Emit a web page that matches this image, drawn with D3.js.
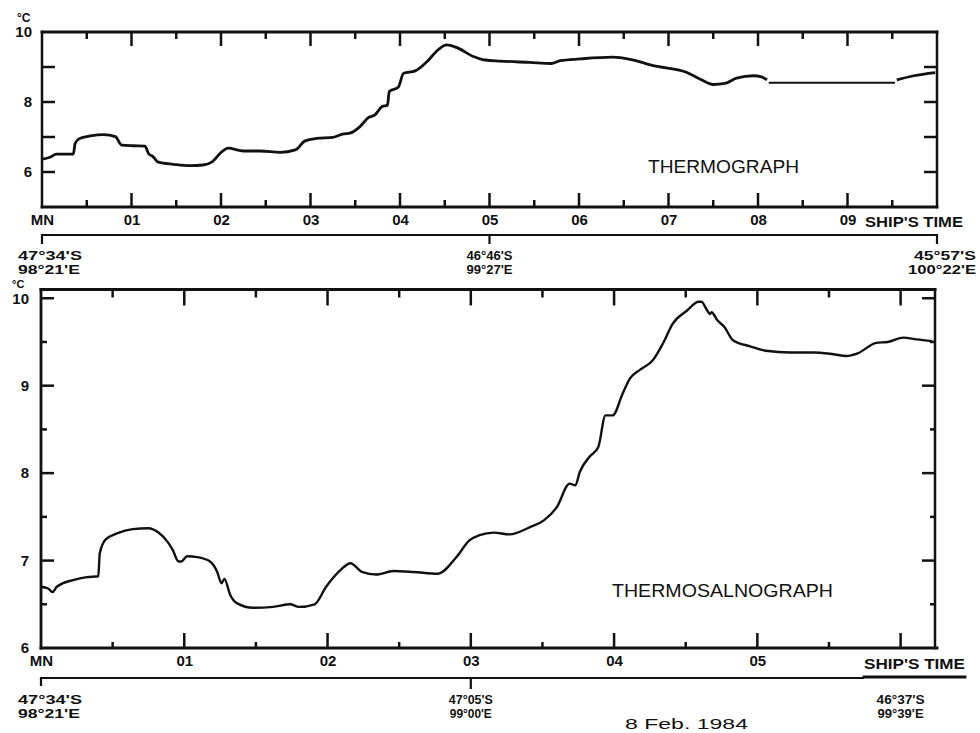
<!DOCTYPE html>
<html><head><meta charset="utf-8">
<script src="https://cdn.jsdelivr.net/npm/d3@7"></script>
<style>body{margin:0;background:#fff}svg{display:block}</style>
</head><body>
<svg id="c" width="980" height="733"></svg>
<script>
// ---------------- DATA ----------------
// Thermograph (upper panel): hours after midnight, temperature °C (null = gap in trace)
const thermoHours = [0.00,0.09,0.16,0.35,0.37,0.42,0.54,0.69,0.82,0.89,1.02,1.15,1.19,1.24,1.30,1.47,1.65,1.80,1.90,2.01,2.08,2.25,2.44,2.66,2.83,2.94,3.07,3.25,3.37,3.44,3.55,3.65,3.72,3.80,3.86,3.88,3.98,4.04,4.17,4.30,4.43,4.52,4.63,4.82,4.95,5.12,5.45,5.69,5.79,6.01,6.38,6.57,6.83,7.20,7.35,7.50,7.63,7.76,7.95,8.04,8.10,8.11,9.55,9.74,9.98];
const thermoTemps = [6.37,6.42,6.51,6.51,6.82,6.96,7.03,7.07,7.01,6.77,6.75,6.74,6.53,6.44,6.28,6.22,6.18,6.20,6.29,6.58,6.68,6.60,6.60,6.56,6.63,6.89,6.96,6.99,7.09,7.11,7.29,7.56,7.63,7.87,7.91,8.30,8.42,8.82,8.89,9.15,9.50,9.63,9.56,9.30,9.20,9.17,9.13,9.10,9.18,9.23,9.28,9.22,9.04,8.85,8.66,8.50,8.53,8.68,8.75,8.72,8.63,null,8.63,8.75,8.84];
// straight ruled line bridging the thermograph gap
const thermoGapHours = [8.12, 9.53];
const thermoGapTemps = [8.55, 8.55];

// Thermosalinograph (lower panel)
const salinoHours = [0.00,0.05,0.08,0.11,0.23,0.32,0.40,0.41,0.45,0.53,0.64,0.75,0.82,0.89,0.92,0.96,0.98,1.02,1.09,1.18,1.23,1.26,1.28,1.32,1.37,1.48,1.62,1.74,1.80,1.91,1.99,2.09,2.16,2.24,2.34,2.46,2.60,2.77,2.90,2.99,3.06,3.16,3.27,3.41,3.51,3.60,3.69,3.73,3.76,3.83,3.89,3.94,3.99,4.06,4.11,4.18,4.27,4.34,4.41,4.51,4.59,4.61,4.65,4.67,4.68,4.72,4.77,4.83,4.95,5.06,5.23,5.39,5.53,5.62,5.70,5.83,5.91,6.02,6.11,6.22];
const salinoTemps = [6.70,6.68,6.64,6.70,6.78,6.81,6.82,7.08,7.24,7.31,7.36,7.37,7.32,7.20,7.12,6.99,6.99,7.05,7.04,6.99,6.87,6.74,6.79,6.61,6.51,6.46,6.47,6.50,6.47,6.50,6.70,6.89,6.97,6.87,6.84,6.88,6.87,6.85,7.04,7.23,7.29,7.32,7.30,7.38,7.46,7.61,7.88,7.86,8.01,8.19,8.30,8.66,8.66,8.91,9.08,9.18,9.29,9.48,9.71,9.86,9.96,9.96,9.86,9.82,9.84,9.75,9.67,9.52,9.45,9.40,9.38,9.38,9.36,9.34,9.37,9.49,9.50,9.55,9.53,9.51];

// Axis labels / tick values
const topHourValues = [0,1,2,3,4,5,6,7,8,9];
const topHourLabels = ["MN","01","02","03","04","05","06","07","08","09"];
const topHourTicks = [1,2,3,4,5,6,7,8,9];
const topHalfTicks = [0.5,1.5,2.5,3.5,4.5,5.5,6.5,7.5,8.5,9.5];
const topTempValues = [6,8,10];
const topTempTicks = [6,7,8,9];
const botHourValues = [0,1,2,3,4,5];
const botHourLabels = ["MN","01","02","03","04","05"];
const botHourTicks = [1,2,3,4,5,6];
const botHalfTicks = [0.5,1.5,2.5,3.5,4.5,5.5];
const botTempValues = [6,7,8,9,10];
const botTempTicks = [7,8,9,10];
const botTempHalf = [6.5,7.5,8.5,9.5];
const topPosHours = [0,5,10];
const topPosLat = ["47°34'S","46°46'S","45°57'S"];
const topPosLon = ["98°21'E","99°27'E","100°22'E"];
const botPosHours = [0,3,6];
const botPosLat = ["47°34'S","47°05'S","46°37'S"];
const botPosLon = ["98°21'E","99°00'E","99°39'E"];

// ---------------- DRAW ----------------
const svg = d3.select("#c");
const FONT = "'Liberation Sans', Arial, sans-serif";
const INK = "#111";

function hline(g,x1,x2,y,w){ g.append("line").attr("x1",x1).attr("x2",x2).attr("y1",y).attr("y2",y).attr("stroke",INK).attr("stroke-width",w).attr("stroke-linecap","square"); }
function vline(g,x,y1,y2,w){ g.append("line").attr("x1",x).attr("x2",x).attr("y1",y1).attr("y2",y2).attr("stroke",INK).attr("stroke-width",w).attr("stroke-linecap","square"); }
function txt(g,x,y,s,opt={}){
  const t = g.append("text").attr("x",x).attr("y",y).text(s)
    .attr("font-family",FONT).attr("font-size",opt.size||14)
    .attr("font-weight",opt.weight||"bold").attr("fill",INK)
    .attr("text-anchor",opt.anchor||"start");
  if(opt.len){ t.attr("textLength",opt.len).attr("lengthAdjust","spacingAndGlyphs"); }
  return t;
}
function xTicks(g,scale,vals,y0,dy,w){
  g.append("g").selectAll("line").data(vals).join("line")
    .attr("x1",d=>scale(d)).attr("x2",d=>scale(d))
    .attr("y1",y0).attr("y2",y0+dy).attr("stroke",INK).attr("stroke-width",w);
}
function yTicks(g,scale,vals,x0,dx,w){
  g.append("g").selectAll("line").data(vals).join("line")
    .attr("y1",d=>scale(d)).attr("y2",d=>scale(d))
    .attr("x1",x0).attr("x2",x0+dx).attr("stroke",INK).attr("stroke-width",w);
}
function styleLabels(sel,size){
  sel.select(".domain").remove();
  sel.selectAll("text").attr("font-family",FONT).attr("font-size",size).attr("font-weight","bold").attr("fill",INK);
}

// ===== Upper panel: THERMOGRAPH =====
{
  const g = svg.append("g");
  const x = d3.scaleLinear().domain([0,10]).range([42,937]);
  const y = d3.scaleLinear().domain([5,10]).range([207,32]);
  const T = y(10), B = y(5), L = x(0), R = x(10);

  xTicks(g,x,topHourTicks,T,14,2.5);
  xTicks(g,x,topHalfTicks,T,7,2.5);
  xTicks(g,x,topHourTicks,B,-14,2.5);
  xTicks(g,x,topHalfTicks,B,-7,2.5);
  yTicks(g,y,topTempTicks,L,13,2.5);
  yTicks(g,y,topTempTicks,R,-13,2.5);

  hline(g,L,R,T,2.8);
  hline(g,L,R,B,2.8);
  vline(g,L,T,B,2.5);
  vline(g,R,T,B,2.5);

  const yl = g.append("g").attr("transform",`translate(${L},0)`)
    .call(d3.axisLeft(y).tickValues(topTempValues).tickSize(0).tickPadding(10).tickFormat(d=>d));
  styleLabels(yl,15);
  txt(g,17,22,"°C",{size:12});

  const xl = g.append("g").attr("transform",`translate(0,${B})`)
    .call(d3.axisBottom(x).tickValues(topHourValues).tickSize(0).tickPadding(7).tickFormat((d,i)=>topHourLabels[i]));
  styleLabels(xl,15);
  txt(g,865,227,"SHIP'S TIME",{size:15,len:98});

  const line = d3.line().defined(d=>d[1]!==null).x(d=>x(d[0])).y(d=>y(d[1])).curve(d3.curveMonotoneX);
  g.append("path").datum(thermoHours.map((h,i)=>[h,thermoTemps[i]]))
    .attr("d",line).attr("fill","none").attr("stroke",INK).attr("stroke-width",2.8).attr("stroke-linejoin","round");
  g.append("path").datum(thermoGapHours.map((h,i)=>[h,thermoGapTemps[i]]))
    .attr("d",d3.line().x(d=>x(d[0])).y(d=>y(d[1]))).attr("fill","none").attr("stroke",INK).attr("stroke-width",2);

  txt(g,648,173,"THERMOGRAPH",{size:19,weight:"normal",len:151});

  const py = 235;
  hline(g,L,R,py,2.2);
  xTicks(g,x,topPosHours,py,9,2.2);
  txt(g,18,260,topPosLat[0],{size:13,len:64});
  txt(g,18,274,topPosLon[0],{size:13,len:62});
  txt(g,x(topPosHours[1]),260,topPosLat[1],{size:13,anchor:"middle",len:46});
  txt(g,x(topPosHours[1]),274,topPosLon[1],{size:13,anchor:"middle",len:46});
  txt(g,976,260,topPosLat[2],{size:13,anchor:"end",len:62});
  txt(g,976,274,topPosLon[2],{size:13,anchor:"end",len:68});
}

// ===== Lower panel: THERMOSALNOGRAPH =====
{
  const g = svg.append("g");
  const x = d3.scaleLinear().domain([0,6.24]).range([41,935]);
  const y = d3.scaleLinear().domain([6,10.1]).range([648,289.5]);
  const T = y(10.1), B = y(6), L = x(0), R = x(6.24);

  xTicks(g,x,botHourTicks,T,16,2.5);
  xTicks(g,x,botHalfTicks,T,8,2.5);
  xTicks(g,x,botHourTicks,B,-15,2.5);
  xTicks(g,x,botHalfTicks,B,-6,2.5);
  yTicks(g,y,botTempTicks,L,13,2.5);
  yTicks(g,y,botTempHalf,L,6,2.5);
  yTicks(g,y,botTempTicks,R,-13,2.5);
  yTicks(g,y,botTempHalf,R,-5,2.5);

  hline(g,L,R,T,3);
  hline(g,L,937,B,2.8);
  vline(g,L,T,B,2.8);
  vline(g,R,T,B,2.5);

  const yl = g.append("g").attr("transform",`translate(${L},0)`)
    .call(d3.axisLeft(y).tickValues(botTempValues).tickSize(0).tickPadding(12).tickFormat(d=>d));
  styleLabels(yl,15);
  txt(g,12,288,"°C",{size:11});

  const xl = g.append("g").attr("transform",`translate(0,${B})`)
    .call(d3.axisBottom(x).tickValues(botHourValues).tickSize(0).tickPadding(7).tickFormat((d,i)=>botHourLabels[i]));
  styleLabels(xl,15);
  txt(g,864,669,"SHIP'S TIME",{size:15,len:101});

  const line = d3.line().x(d=>x(d[0])).y(d=>y(d[1])).curve(d3.curveMonotoneX);
  g.append("path").datum(salinoHours.map((h,i)=>[h,salinoTemps[i]]))
    .attr("d",line).attr("fill","none").attr("stroke",INK).attr("stroke-width",2.4).attr("stroke-linejoin","round");

  txt(g,612,597,"THERMOSALNOGRAPH",{size:19,weight:"normal",len:221});

  const py = 678;
  hline(g,L,863,py,2.2);
  hline(g,864,965,py-1,2.8);
  xTicks(g,x,[botPosHours[0]],py,8,2.2);
  xTicks(g,x,[botPosHours[1]],py,11,2.2);
  txt(g,18,704,botPosLat[0],{size:13,len:64});
  txt(g,18,718,botPosLon[0],{size:13,len:62});
  txt(g,x(botPosHours[1]),704,botPosLat[1],{size:13,anchor:"middle",len:44});
  txt(g,x(botPosHours[1]),718,botPosLon[1],{size:13,anchor:"middle",len:42});
  txt(g,x(botPosHours[2]),704,botPosLat[2],{size:13,anchor:"middle",len:48});
  txt(g,x(botPosHours[2]),718,botPosLon[2],{size:13,anchor:"middle",len:46});

  txt(g,625,729,"8 Feb. 1984",{size:15,weight:"normal",len:123});
}
</script>
</body></html>
